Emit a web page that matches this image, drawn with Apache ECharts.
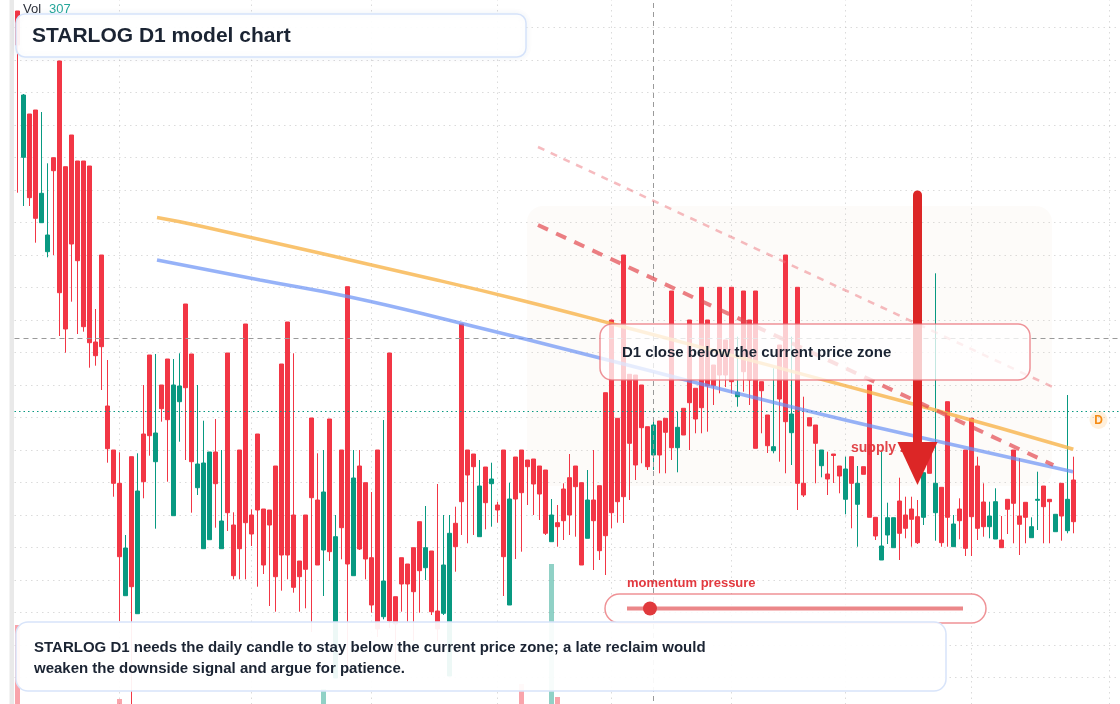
<!DOCTYPE html>
<html>
<head>
<meta charset="utf-8">
<title>STARLOG D1 model chart</title>
<script src="https://cdn.jsdelivr.net/npm/echarts@6/dist/echarts.min.js"></script>
<style>
  html, body { margin: 0; padding: 0; background: #fff; }
  #chart { width: 1120px; height: 704px; }
</style>
</head>
<body>
<div id="chart"></div>
<script>
// daily candles: [open, close, low, high]
const ohlc = [
  [82.9, 79.5, 64.73, 82.9], [68.27, 74.5, 63.4, 74.6], [72.6, 64.23, 63.4, 72.6], [73, 62.17, 59.73, 73], [61.73, 64.67, 61.7, 72.8],
  [58.83, 60.5, 58.27, 67.67], [68.23, 66.93, 58.5, 68.23], [77.9, 54.73, 50.4, 77.9], [67.33, 51.1, 48.73, 67.33], [70.5, 59.6, 53.83, 70.5],
  [67.9, 57.93, 50.6, 67.9], [67.9, 51.33, 50.83, 67.9], [67.4, 49.73, 47.23, 67.4], [49.8, 48.43, 47.43, 53.1], [58.5, 49.33, 45, 58.5],
  [43.4, 39.13, 37.73, 48], [39, 35.67, 34.33, 39], [35.67, 28.33, 21.9, 38.77], [24.43, 29.2, 24.43, 30.5], [38.33, 25.33, 13.2, 38.33],
  [22.63, 34.9, 22.63, 38.67], [40.6, 35.83, 34.17, 45.5], [48.5, 40.43, 38.43, 48.5], [37.83, 40.7, 31.13, 48.6], [45.5, 43.13, 41.83, 45.5],
  [48.1, 42.03, 35.83, 48.1], [32.43, 45.5, 32.43, 48.1], [43.83, 45.4, 39.83, 48.67], [53.6, 45.23, 38, 53.6], [48.6, 37.83, 32.73, 48.6],
  [35.23, 37.6, 34.5, 45.5], [29.13, 37.7, 29.13, 41.93], [30.03, 38.8, 30.03, 38.8], [38.8, 35.63, 31.23, 42.1], [29.13, 31.9, 29.13, 39],
  [48.7, 32.73, 30.9, 48.7], [31.5, 26.43, 26.07, 32.77], [39, 29.13, 26.07, 39], [51.6, 31.73, 26.07, 51.6], [32.5, 30.6, 29.4, 33.07],
  [40.6, 33, 25.33, 40.6], [33.1, 27.5, 26.6, 33.1], [33, 31.5, 23.4, 33], [37.4, 26.33, 22.83, 37.4], [47.6, 28.5, 24.93, 47.6],
  [51.8, 28.5, 26.07, 51.8], [32.5, 25.27, 24.73, 48.67], [27.9, 26.33, 22.83, 27.9], [32.5, 27.07, 23.17, 32.5], [42.2, 34.23, 20.8, 42.2],
  [34, 27.5, 27.5, 38.67], [29, 34.8, 24.4, 39], [42.1, 28.83, 27.9, 42.1], [16.2, 30.33, 16.2, 32.5], [39, 31.23, 28.07, 39],
  [55.33, 27.6, 16.7, 55.33], [26.43, 36.2, 26.43, 39], [37.4, 29.1, 29, 39], [35.73, 28.1, 26.07, 35.73], [28.23, 23.5, 22.73, 34.8],
  [39, 21.1, 20.3, 39], [22.33, 25.9, 22.07, 42], [48.7, 21.9, 21.2, 48.7], [24.33, 21.6, 17.7, 24.33], [28.23, 25.6, 22.83, 28.23],
  [27.6, 25.6, 21.83, 27.6], [29.23, 24.83, 19.9, 29.23], [31.83, 26.93, 22.73, 31.83], [27.23, 29.23, 26, 33.4], [28.9, 22.83, 22.5, 28.9],
  [22.9, 21.1, 19.9, 35.6], [22.67, 27.5, 22.5, 32.5], [16.4, 30.67, 16.4, 32.5], [31.67, 29.33, 26.83, 33.33], [51.6, 33.83, 30.5, 51.6],
  [39, 36.5, 29.67, 39], [38.6, 37.33, 30.5, 38.6], [30.33, 35.4, 30.33, 38], [37.3, 33.73, 31.07, 37.3], [35.63, 36.1, 31.33, 37.73],
  [33.5, 33, 31.73, 33.83], [39, 28.33, 24.4, 39], [23.5, 34.1, 23.5, 35.73], [38.3, 34.1, 28.1, 38.3], [39, 34.73, 28.83, 39],
  [38, 37.33, 33.5, 38], [38.1, 35.6, 32.5, 38.1], [37.4, 34.6, 32, 37.4], [37, 30.67, 30.5, 37], [29.83, 32.5, 29.83, 34.1],
  [31.73, 31.33, 29.33, 33.5], [35.1, 31.93, 30, 35.67], [36.23, 32.5, 30.5, 38.6], [37.4, 35.33, 30.33, 37.4], [35.73, 27.5, 27.5, 35.73],
  [30.17, 34, 30.17, 37], [34, 31.93, 27, 39], [35.43, 28.93, 28, 35.43], [44.73, 30.43, 26.5, 44.73], [52, 32.73, 31.17, 52],
  [42.17, 33.83, 31.73, 42.17], [58.5, 34.33, 31.7, 58.5], [46.57, 39.67, 34, 46.57], [46.5, 37.5, 36, 46.5], [45.5, 41.23, 37.67, 45.5],
  [41.33, 37.33, 37, 41.33], [38.5, 41.5, 37, 42.2], [41.9, 38.5, 36.67, 41.9], [42.17, 40.77, 36.67, 42.17], [54.9, 39.23, 38, 54.9],
  [39.23, 41.27, 36.77, 42.83], [43.17, 40.5, 40.5, 43.17], [52, 43.73, 39, 52], [45.17, 42.1, 40.67, 45.17], [55.27, 43.23, 40.67, 55.27],
  [52, 45.43, 40.83, 52], [47.5, 45.43, 43.5, 47.5], [55.27, 46.5, 44.67, 55.27], [50, 46.5, 45.3, 50], [55.27, 45.83, 44.67, 55.27],
  [44.33, 44.77, 43.33, 50.33], [54.9, 46.83, 44.83, 54.9], [52, 46, 43.5, 52], [54.9, 39.17, 39.17, 54.9], [45.83, 44.93, 40.67, 45.83],
  [42.5, 39.43, 38.7, 42.5], [38.93, 39.33, 38.67, 47.17], [49.5, 44.1, 37.83, 49.5], [58.5, 41.83, 36.67, 58.5], [40.73, 42.6, 37.5, 50.33],
  [55.27, 35.67, 33, 55.27], [35.67, 34.5, 34.3, 44.33], [42.23, 41.4, 41.4, 42.23], [41.5, 39.67, 35.67, 41.5], [37.43, 39, 36.27, 39],
  [36.6, 36.1, 34.5, 38.83], [38.6, 38.45, 35.7, 38.6], [37.4, 36.4, 34.67, 37.4], [34.07, 37.1, 32.57, 38.33], [38.33, 35.67, 31.17, 38.33],
  [33.57, 35.67, 29.33, 37.4], [37.33, 36.57, 36.57, 37.33], [45.5, 32.27, 32.27, 45.5], [32.27, 30.4, 30, 32.27], [28, 29.4, 28, 38.83],
  [30.5, 32.23, 29.6, 33.73], [29.23, 32.23, 29.23, 32.23], [33.9, 30.67, 28, 36.23], [32.5, 31.17, 30.17, 34.33], [33.1, 32.07, 29.33, 34.33],
  [32.33, 29.73, 29.6, 34], [32.27, 36.73, 31.5, 36.73], [39, 36.67, 36.67, 39], [32.73, 35.67, 29.93, 56.67], [35.27, 29.73, 29.33, 35.27],
  [43.83, 32.27, 29.33, 43.83], [29.33, 31.6, 29.33, 32.5], [33.1, 31.93, 30.07, 34.17], [39, 29.17, 28.4, 39], [42.17, 32.33, 28.4, 42.17],
  [37.4, 31.17, 30, 38.33], [33.8, 31.33, 30.33, 35.67], [31.33, 32.4, 30.17, 33.83], [30.1, 33.83, 30.1, 35.17], [30, 29.23, 29.23, 32.4],
  [34.07, 33.07, 30.6, 34.07], [39, 33.67, 29.67, 39], [32.4, 31.57, 28.5, 38.17], [33.77, 32.27, 29.67, 33.77], [30.23, 31.33, 30.23, 32.27],
  [33.97, 34.07, 31, 36.83], [35.4, 33.33, 29.67, 35.4], [34.07, 33.83, 29.67, 34.07], [30.83, 32.57, 30.83, 32.57], [35.67, 32.4, 29.93, 35.67],
  [30.93, 34.07, 30.67, 44.5], [36, 31.83, 30.67, 38.33]
];

// volume bars that can be seen under the text box: [bar, volume]
const volumeBars = [[0, 1580], [17, 100], [51, 300], [84, 400], [89, 2800], [90, 140]];

// two smooth averages and the two dashed trend lines: [bar, price]
const orangeLine = [[23.25, 62.25], [30.42, 61.4], [69.87, 56], [83.75, 54], [98.75, 51.67], [150.97, 43.33], [175.97, 39.07]];
const blueLine = [[23.25, 58], [40.42, 56], [55.42, 54.3], [73.75, 51.7], [97.08, 48.2], [130.42, 43.1], [150.92, 40.2], [175.92, 36.83]];
const upperTrend = [[86.75, 69.3], [172.42, 45.33]];
const lowerTrend = [[86.75, 61.5], [172.63, 37.5]];

const monthStarts = [17, 39, 59, 80, 99, 119, 138, 159, 182];
const crosshair = { bar: 106, price: 50.2 };
const lastPrice = 42.9;
const arrowSignal = { bar: 150, from: 64.5, to: 35.5 };

const slots = 184; // candles plus empty space on the right
const days = Array.from({ length: slots }, (_, i) => 'd' + i);

const up = '#089981';
const down = '#f23645';
const font = '"Liberation Sans", Arial, sans-serif';
const gridColor = 'rgba(190,190,190,0.55)';

let volData = days.map(() => null);
volumeBars.forEach(([k, v]) => {
  let c = ohlc[k][1] >= ohlc[k][0] ? 'rgba(8,153,129,0.45)' : 'rgba(242,54,69,0.45)';
  volData[k] = { value: v, itemStyle: { color: c } };
});

let myChart = echarts.init(document.getElementById('chart'));

let hidden = { axisLine: { show: false }, axisTick: { show: false }, axisLabel: { show: false }, splitLine: { show: false } };

myChart.setOption({
  animation: false,
  backgroundColor: '#ffffff',
  grid: [
    { left: 14.5, right: 1.5, top: -5, bottom: -6, outerBoundsMode: 'none' },
    { left: 14.5, right: 1.5, top: 424, bottom: 0, outerBoundsMode: 'none' }
  ],
  xAxis: [
    { type: 'category', data: days, boundaryGap: true, gridIndex: 0, ...hidden },
    { type: 'value', min: -0.5, max: slots - 0.5, gridIndex: 0, ...hidden },
    { type: 'category', data: days, boundaryGap: true, gridIndex: 1, ...hidden }
  ],
  yAxis: [
    {
      type: 'value', min: 13, max: 84.5, interval: 3.25, gridIndex: 0,
      axisLine: { show: false }, axisTick: { show: false }, axisLabel: { show: false },
      splitLine: { show: true, lineStyle: { color: gridColor, width: 1, type: [1.5, 4] } }
    },
    { type: 'value', min: 0, max: 5600, gridIndex: 1, ...hidden }
  ],
  series: [
    {
      type: 'bar', xAxisIndex: 2, yAxisIndex: 1, data: volData, barWidth: 5, z: 1
    },
    {
      type: 'line', xAxisIndex: 1, yAxisIndex: 0, data: [], z: 1,
      markLine: {
        silent: true, symbol: 'none', z: 1, label: { show: false },
        lineStyle: { color: gridColor, width: 1, type: [1.5, 4] },
        data: monthStarts.map((k) => ({ xAxis: k }))
      }
    },
    {
      type: 'candlestick', xAxisIndex: 0, yAxisIndex: 0, data: ohlc, barWidth: 4, clip: false, z: 2,
      itemStyle: { color: up, color0: down, borderColor: up, borderColor0: down, borderWidth: 1 }
    },
    {
      type: 'line', xAxisIndex: 1, yAxisIndex: 0, data: [], z: 3,
      markLine: {
        silent: true, symbol: 'none', z: 3, label: { show: false },
        data: [
          { xAxis: crosshair.bar, lineStyle: { color: '#9a9a9a', width: 1, type: [5, 4] } },
          { yAxis: crosshair.price, lineStyle: { color: '#9a9a9a', width: 1, type: [5, 4] } },
          { yAxis: lastPrice, lineStyle: { color: up, width: 1, type: [1.5, 3] } }
        ]
      }
    },
    {
      name: 'orange', type: 'line', xAxisIndex: 1, yAxisIndex: 0, data: orangeLine, smooth: true,
      showSymbol: false, z: 4, lineStyle: { color: 'rgba(248,180,75,0.8)', width: 3.5 }
    },
    {
      name: 'blue', type: 'line', xAxisIndex: 1, yAxisIndex: 0, data: blueLine, smooth: true,
      showSymbol: false, z: 4, lineStyle: { color: 'rgba(105,145,245,0.7)', width: 3.5 }
    },
    {
      type: 'line', xAxisIndex: 1, yAxisIndex: 0, data: upperTrend, showSymbol: false, z: 4,
      lineStyle: { color: 'rgba(238,120,128,0.5)', width: 2.5, type: [7, 7] }
    },
    {
      type: 'line', xAxisIndex: 1, yAxisIndex: 0, data: lowerTrend, showSymbol: false, z: 4,
      lineStyle: { color: 'rgba(226,72,80,0.7)', width: 4, type: [11, 9] }
    }
  ]
});

// arrow position comes from the price scale
let arrowTop = myChart.convertToPixel({ seriesIndex: 4 }, [arrowSignal.bar, arrowSignal.from]);
let arrowTip = myChart.convertToPixel({ seriesIndex: 4 }, [arrowSignal.bar, arrowSignal.to]);
let headH = 43, headW = 20;

myChart.setOption({
  graphic: [
    // left strip
    { type: 'rect', z: 0, silent: true, shape: { x: 9.5, y: 0, width: 4.5, height: 704 }, style: { fill: '#e9e9e9' } },
    // faint zone behind the signal
    { type: 'rect', z: 0, silent: true, shape: { x: 527, y: 206, width: 525, height: 280, r: 16 }, style: { fill: 'rgba(240,215,200,0.1)' } },
    // supply zone label (under the arrow head)
    { type: 'text', z: 40, silent: true, style: { text: 'supply zone', x: 851, y: 448, verticalAlign: 'middle', font: 'bold 14px ' + font, fill: 'rgba(222,52,58,0.92)' } },
    // red arrow
    { type: 'line', z: 50, silent: true, shape: { x1: arrowTop[0], y1: arrowTop[1], x2: arrowTip[0], y2: arrowTip[1] - headH + 2 }, style: { stroke: '#dc2626', lineWidth: 9, lineCap: 'round' } },
    { type: 'polygon', z: 50, silent: true, shape: { points: [[arrowTip[0] - headW, arrowTip[1] - headH], [arrowTip[0] + headW, arrowTip[1] - headH], [arrowTip[0], arrowTip[1]]] }, style: { fill: '#dc2626' } },
    // callout
    { type: 'rect', z: 60, silent: true, shape: { x: 600, y: 324, width: 430, height: 56, r: 12 }, style: { fill: 'rgba(255,255,255,0.76)', stroke: 'rgba(232,110,118,0.75)', lineWidth: 1.5 } },
    { type: 'text', z: 61, silent: true, style: { text: 'D1 close below the current price zone', x: 622, y: 353, verticalAlign: 'middle', font: 'bold 15px ' + font, fill: '#1b2433' } },
    // title
    { type: 'rect', z: 60, silent: true, shape: { x: 16, y: 14, width: 510, height: 43, r: 9 }, style: { fill: 'rgba(255,255,255,0.94)', stroke: '#d5e2fa', lineWidth: 1.5, shadowBlur: 6, shadowColor: 'rgba(60,90,150,0.08)' } },
    { type: 'text', z: 61, silent: true, style: { text: 'STARLOG D1 model chart', x: 32, y: 36.5, verticalAlign: 'middle', font: 'bold 21px ' + font, fill: '#1b2433' } },
    // volume legend
    { type: 'text', z: 61, silent: true, style: { text: 'Vol', x: 23, y: 9, verticalAlign: 'middle', font: '13px ' + font, fill: '#2a2e39' } },
    { type: 'text', z: 61, silent: true, style: { text: '307', x: 49, y: 9, verticalAlign: 'middle', font: '13px ' + font, fill: '#26a69a' } },
    // momentum pressure slider
    { type: 'text', z: 61, silent: true, style: { text: 'momentum pressure', x: 627, y: 583, verticalAlign: 'middle', font: 'bold 13px ' + font, fill: '#e2393f' } },
    { type: 'rect', z: 60, silent: true, shape: { x: 605, y: 594, width: 381, height: 29, r: 14.5 }, style: { fill: 'rgba(255,255,255,0.85)', stroke: 'rgba(232,100,106,0.7)', lineWidth: 1.5 } },
    { type: 'line', z: 61, silent: true, shape: { x1: 627, y1: 608.5, x2: 963, y2: 608.5 }, style: { stroke: 'rgba(228,95,98,0.75)', lineWidth: 4 } },
    { type: 'circle', z: 62, silent: true, shape: { cx: 650, cy: 608.5, r: 7 }, style: { fill: '#e0393c' } },
    // bottom note
    { type: 'rect', z: 60, silent: true, shape: { x: 16, y: 622, width: 930, height: 69, r: 12 }, style: { fill: 'rgba(255,255,255,0.93)', stroke: '#d8e4fa', lineWidth: 1.5 } },
    { type: 'text', z: 61, silent: true, style: { text: 'STARLOG D1 needs the daily candle to stay below the current price zone; a late reclaim would\nweaken the downside signal and argue for patience.', x: 34, y: 637, lineHeight: 21, font: 'bold 15px ' + font, fill: '#1b2433' } },
    // price tag on the right
    { type: 'circle', z: 61, silent: true, shape: { cx: 1098.5, cy: 420, r: 9 }, style: { fill: 'rgba(255,160,40,0.16)' } },
    { type: 'text', z: 62, silent: true, style: { text: 'D', x: 1098.5, y: 420.5, align: 'center', verticalAlign: 'middle', font: 'bold 12px ' + font, fill: '#f58a12' } }
  ]
});
</script>
</body>
</html>
